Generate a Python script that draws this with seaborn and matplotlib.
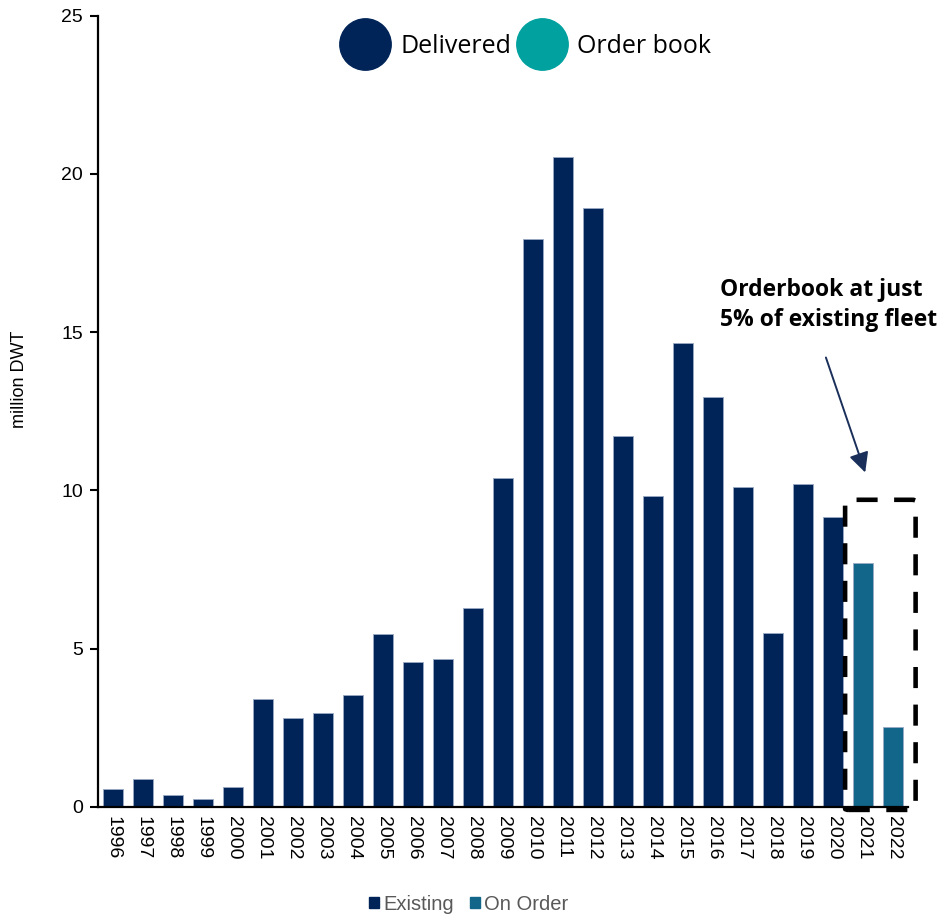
import matplotlib
matplotlib.use("Agg")
import matplotlib.pyplot as plt
from matplotlib.lines import Line2D
from matplotlib.patches import FancyBboxPatch, Patch
import seaborn as sns
import pandas as pd

# Deliveries and order book by year (million DWT)
years = [str(y) for y in range(1996, 2023)]
values = [0.55, 0.87, 0.37, 0.25, 0.61, 3.39, 2.80, 2.95, 3.53, 5.47,
          4.56, 4.67, 6.27, 10.38, 17.94, 20.52, 18.91, 11.73, 9.83, 14.67,
          12.94, 10.11, 5.49, 10.19, 9.15, 7.70, 2.53]
status = ["Existing"] * 25 + ["On Order"] * 2

NAVY = "#002458"
ORDER = "#12668A"
TEAL = "#00A19F"

df = pd.DataFrame({"year": years, "dwt": values, "status": status})

sns.set_theme(style="white")
plt.rcParams["font.family"] = ["Liberation Sans", "DejaVu Sans"]
plt.rcParams.update({"text.color": "black", "axes.labelcolor": "black",
                     "xtick.color": "black", "ytick.color": "black"})

fig = plt.figure(figsize=(9.43, 9.16), dpi=100)
ax = fig.add_axes([0.104, 0.1193, 0.859, 0.8636])

sns.barplot(data=df, x="year", y="dwt", hue="status", dodge=False,
            palette={"Existing": NAVY, "On Order": ORDER}, width=0.67,
            saturation=1, edgecolor="#9AAAC4", linewidth=0.6, legend=False,
            ax=ax)

ax.set_ylim(0, 25)
ax.set_xlim(-0.5, len(years) - 0.5)
ax.set_yticks([0, 5, 10, 15, 20, 25])
ax.set_xlabel("")
ax.set_ylabel("million DWT", fontsize=13)
ax.yaxis.set_label_coords(-0.086, 0.54)
ax.tick_params(axis="y", direction="out", length=6, width=1.5, color="black",
               labelsize=14, pad=5, left=True)
ax.tick_params(axis="x", length=0, labelsize=14, pad=7)
for lab in ax.get_xticklabels():
    lab.set_rotation(-90)
    lab.set_va("top")
    lab.set_ha("center")

sns.despine(ax=ax)
for side in ("left", "bottom"):
    ax.spines[side].set_color("black")
    ax.spines[side].set_linewidth(1.6)

# Dashed box around the order book
box = FancyBboxPatch((24.4, -0.1), 2.35, 9.8,
                     boxstyle="round,pad=0,rounding_size=0.12",
                     fill=False, edgecolor="black", linewidth=3.3,
                     linestyle=(0, (4.6, 3.6)), clip_on=False, zorder=5,
                     mutation_aspect=1 / 3)
ax.add_patch(box)

# Callout
ax.annotate("", xy=(25.1, 10.48), xytext=(23.73, 14.28),
            arrowprops=dict(arrowstyle="-|>,head_length=1.0,head_width=0.5",
                            color="#1A2F5A", lw=1.4),
            annotation_clip=False)
ax.text(20.23, 16.33, "Orderbook at just", fontsize=16.5, fontweight="bold",
        family=["Open Sans", "DejaVu Sans"], ha="left", va="center", color="black")
ax.text(20.23, 15.38, "5% of existing fleet", fontsize=16.5, fontweight="bold",
        family=["Open Sans", "DejaVu Sans"], ha="left", va="center", color="black")

# Top legend with circular markers
top_handles = [Line2D([], [], marker="o", linestyle="none", markersize=37,
                      markerfacecolor=NAVY, markeredgecolor=NAVY),
               Line2D([], [], marker="o", linestyle="none", markersize=37,
                      markerfacecolor=TEAL, markeredgecolor=TEAL)]
fig.legend(top_handles, ["Delivered", "Order book"], loc="center",
           bbox_to_anchor=(0.56, 0.949), ncol=2, frameon=False,
           prop={"family": ["Open Sans", "DejaVu Sans"], "size": 18},
           handlelength=1.6, handletextpad=0.6, columnspacing=0.45)

# Bottom legend with square markers
bottom_handles = [Patch(facecolor=NAVY, edgecolor=NAVY),
                  Patch(facecolor=ORDER, edgecolor=ORDER)]
leg = fig.legend(bottom_handles, ["Existing", "On Order"], loc="center",
                 bbox_to_anchor=(0.497, 0.013), ncol=2, frameon=False,
                 prop={"size": 14.5}, handlelength=0.5, handleheight=0.5,
                 handletextpad=0.2, columnspacing=0.8)
for t in leg.get_texts():
    t.set_color("#595959")

fig.savefig("out.png", dpi=100)
